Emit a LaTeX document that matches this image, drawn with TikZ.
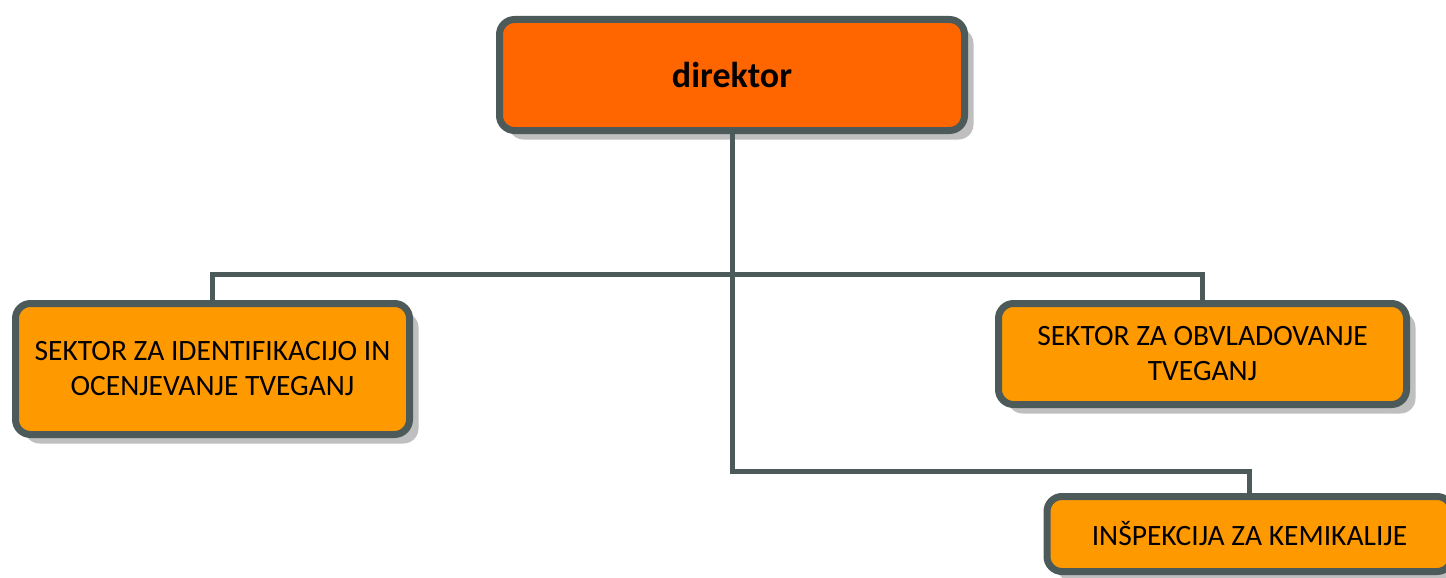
\documentclass[tikz,border=0pt]{standalone}
\usepackage{fontspec}
\setmainfont{Carlito}
\usetikzlibrary{shadows}
\definecolor{boxline}{HTML}{4D5A5A}
\definecolor{topfill}{HTML}{FF6600}
\definecolor{subfill}{HTML}{FF9900}
\begin{document}
\begin{tikzpicture}[x=1pt, y=-1pt,
      unit/.style={rectangle, rounded corners=15pt, draw=boxline, line width=7pt, fill=subfill,
        drop shadow={shadow xshift=9pt, shadow yshift=-9pt, fill=black!25, opacity=1},
        align=center, inner sep=0pt, font=\fontsize{29.5}{35}\selectfont},
      head/.style={unit, fill=topfill, font=\fontsize{36}{42}\selectfont\bfseries},
      link/.style={draw=boxline, line width=5pt}]
            \useasboundingbox (0,0) rectangle (1446,578);
            \node[head, minimum width=465pt, minimum height=111pt] (dir) at (732, 75) {direktor};
            \node[unit, minimum width=394pt, minimum height=131pt] (ident) at (212.5, 369) {SEKTOR ZA IDENTIFIKACIJO IN\\OCENJEVANJE TVEGANJ};
            \node[unit, minimum width=408pt, minimum height=101pt] (obvl) at (1202.5, 354) {SEKTOR ZA OBVLADOVANJE\\TVEGANJ};
            \node[unit, minimum width=405pt, minimum height=75pt] (insp) at (1249.5, 534) {INŠPEKCIJA ZA KEMIKALIJE};
            \coordinate (bus) at (732, 274);
            \coordinate (low) at (732, 471);
%           connectors
            \draw[link] (ident.north) -- (ident.north |- bus) -- (obvl.north |- bus) -- (obvl.north);
            \draw[link] (dir.south) -- (low) -| (insp.north);
\end{tikzpicture}
\end{document}
